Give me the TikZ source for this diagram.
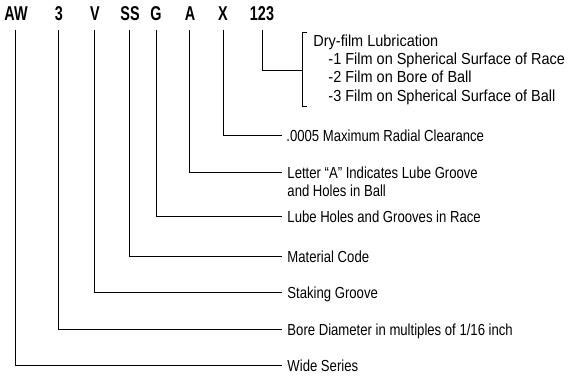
\documentclass[tikz,border=0pt]{standalone}
\usepackage{fontspec}
\setmainfont[FakeStretch=0.82]{Liberation Sans}
\newfontfamily\codefont[FakeStretch=0.72]{Liberation Sans}
\newfontfamily\dryfont[FakeStretch=0.905]{Liberation Sans}
\begin{document}
\begin{tikzpicture}[x=1pt,y=-1pt,line width=0.9pt,
  code/.style={font=\codefont\fontsize{20}{20}\selectfont\bfseries,anchor=base,inner sep=0pt},
  lbl/.style={font=\fontsize{16}{18}\selectfont,anchor=base west,inner sep=0pt},
  drylbl/.style={font=\dryfont\fontsize{16}{18}\selectfont,anchor=base west,inner sep=0pt}]
\useasboundingbox (0,0) rectangle (569,377);
% codes
\node[code] (cAW) at (16,21) {AW};
\node[code] (c3) at (59,21) {3};
\node[code] (cV) at (95,21) {V};
\node[code] (cSS) at (130,21) {SS};
\node[code] (cG) at (156,21) {G};
\node[code] (cA) at (190,21) {A};
\node[code] (cX) at (223,21) {X};
\node[code] (c123) at (262,21) {123};
% line starts
\coordinate (sAW) at (15,30);
\coordinate (s3) at (58,30);
\coordinate (sV) at (94,30);
\coordinate (sSS) at (129,30);
\coordinate (sG) at (156,30);
\coordinate (sA) at (189,30);
\coordinate (sX) at (223,30);
\coordinate (s123) at (262,30);
% labels
\node[drylbl] (lDry) at (313,47) {Dry-film Lubrication};
\node[drylbl] (lDry1) at (328,65) {-1 Film on Spherical Surface of Race};
\node[drylbl] (lDry2) at (328,83) {-2 Film on Bore of Ball};
\node[drylbl] (lDry3) at (328,101) {-3 Film on Spherical Surface of Ball};
\node[lbl] (lX) at (286,141) {.0005 Maximum Radial Clearance};
\node[lbl] (lA) at (287,178.5) {Letter “A” Indicates Lube Groove};
\node[lbl] (lA2) at (287,196.5) {and Holes in Ball};
\node[lbl] (lG) at (287,222.5) {Lube Holes and Grooves in Race};
\node[lbl] (lSS) at (287,262.5) {Material Code};
\node[lbl] (lV) at (287,298.5) {Staking Groove};
\node[lbl] (l3) at (287,335) {Bore Diameter in multiples of 1/16 inch};
\node[lbl] (lAW) at (287,371.5) {Wide Series};
% line ends
\coordinate (eX) at (282,135);
\coordinate (eA) at (282,172.7);
\coordinate (eG) at (282,216.7);
\coordinate (eSS) at (282,256.7);
\coordinate (eV) at (282,292.7);
\coordinate (e3) at (282,329);
\coordinate (eAW) at (282,365.7);
\coordinate (bm) at (302.7,70);
\coordinate (bt) at (306.5,32.7);
\coordinate (bb) at (306.5,106);
% connectors
\draw (sAW) |- (eAW);
\draw (s3) |- (e3);
\draw (sV) |- (eV);
\draw (sSS) |- (eSS);
\draw (sG) |- (eG);
\draw (sA) |- (eA);
\draw (sX) |- (eX);
\draw (s123) |- (bm);
\draw (bt) -| (bm) |- (bb);
\end{tikzpicture}
\end{document}
